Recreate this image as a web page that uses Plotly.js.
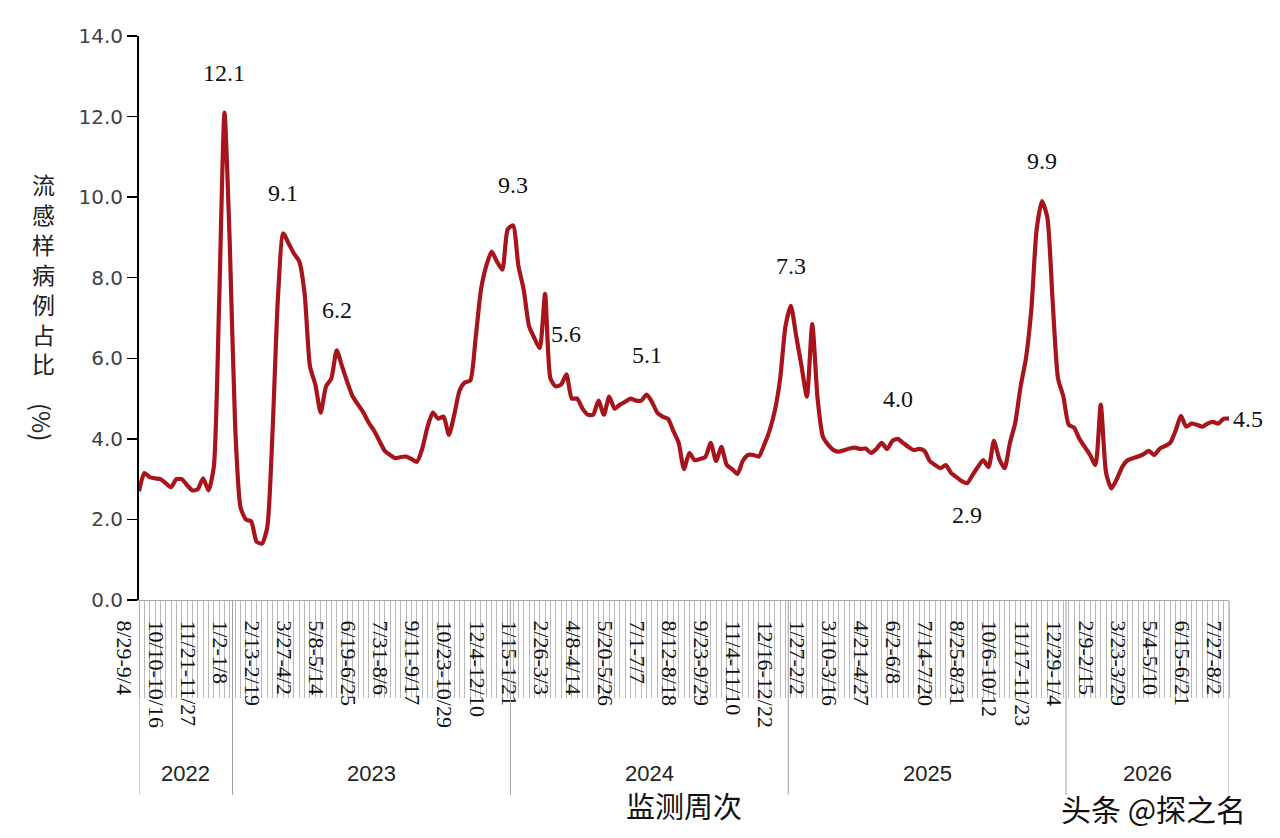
<!DOCTYPE html>
<html>
<head>
<meta charset="utf-8">
<script src="https://cdn.plot.ly/plotly-3.0.1.min.js"></script>
<style>
  html, body { margin: 0; padding: 0; background: #fff; }
  #chart { width: 1280px; height: 838px; }
</style>
</head>
<body>
<div id="chart"></div>
<script>
// Weekly influenza-like-illness share (%), week 8/29-9/4 (2022) to 7/27-8/2 (2026)
const iliShare = [
  2.7, 3.15, 3.05, 3.02, 3.0, 2.9, 2.8, 3.0, 3.0, 2.85,
  2.72, 2.75, 3.02, 2.72, 3.3, 7.4, 12.1, 8.8, 4.3, 2.3,
  2.0, 1.95, 1.45, 1.4, 1.8, 4.2, 7.5, 9.1, 8.85, 8.6,
  8.4, 7.6, 5.8, 5.35, 4.65, 5.3, 5.5, 6.2, 5.8, 5.4,
  5.05, 4.85, 4.65, 4.4, 4.2, 3.95, 3.7, 3.6, 3.52, 3.55,
  3.56, 3.5, 3.43, 3.75, 4.3, 4.65, 4.5, 4.55, 4.1, 4.6,
  5.2, 5.4, 5.45, 6.5, 7.7, 8.3, 8.65, 8.4, 8.2, 9.2,
  9.3, 8.3, 7.7, 6.8, 6.5, 6.25, 7.6, 5.5, 5.3, 5.35,
  5.6, 5.0, 5.0, 4.75, 4.6, 4.6, 4.95, 4.6, 5.05, 4.75,
  4.85, 4.92, 5.0, 4.95, 4.95, 5.1, 4.92, 4.65, 4.55, 4.5,
  4.2, 3.9, 3.25, 3.65, 3.47, 3.5, 3.55, 3.9, 3.45, 3.8,
  3.35, 3.25, 3.13, 3.45, 3.6, 3.6, 3.56, 3.85, 4.2, 4.7,
  5.5, 6.8, 7.3, 6.55, 5.8, 5.05, 6.85, 5.0, 4.05, 3.85,
  3.72, 3.68, 3.72, 3.76, 3.78, 3.75, 3.76, 3.65, 3.75, 3.9,
  3.75, 3.95, 4.0, 3.9, 3.8, 3.72, 3.75, 3.7, 3.45, 3.35,
  3.27, 3.35, 3.15, 3.05, 2.95, 2.9, 3.1, 3.3, 3.47, 3.3,
  3.95, 3.5, 3.27, 3.9, 4.4, 5.3, 6.0, 7.2, 9.2, 9.9,
  9.5, 7.4, 5.5, 5.05, 4.35, 4.28, 4.0, 3.8, 3.6, 3.35,
  4.85, 3.15, 2.77, 3.0, 3.3, 3.47, 3.52, 3.56, 3.62, 3.7,
  3.6, 3.75, 3.82, 3.9, 4.2, 4.57, 4.3, 4.38, 4.35, 4.3,
  4.38, 4.42, 4.38, 4.5, 4.5
];

// Tick labels, one every 6 weeks
const tickLabels = [
  "8/29-9/4", "10/10-10/16", "11/21-11/27", "1/2-1/8", "2/13-2/19", "3/27-4/2",
  "5/8-5/14", "6/19-6/25", "7/31-8/6", "9/11-9/17", "10/23-10/29", "12/4-12/10",
  "1/15-1/21", "2/26-3/3", "4/8-4/14", "5/20-5/26", "7/1-7/7", "8/12-8/18",
  "9/23-9/29", "11/4-11/10", "12/16-12/22", "1/27-2/2", "3/10-3/16", "4/21-4/27",
  "6/2-6/8", "7/14-7/20", "8/25-8/31", "10/6-10/12", "11/17-11/23", "12/29-1/4",
  "2/9-2/15", "3/23-3/29", "5/4-5/10", "6/15-6/21", "7/27-8/2"
];
const tickEvery = 6;

// Year groups: label and index of first week in each year
const years = ["2022", "2023", "2024", "2025", "2026"];
const yearStartWeek = [0, 18, 70, 122, 174];

// Labelled points (week index) and where the label sits
const labelWeeks = [16, 27, 37, 70, 80, 95, 122, 142, 155, 169, 204];
const labelPlace = ["up", "up", "up", "up", "up", "up", "up", "up", "down", "up", "right"];

const yTitleMain = "流感样病例占比";
const yTitleUnit = "(%)";
const xTitle = "监测周次";
const watermark = "头条 @探之名";

// ---- build ----
const weekIdx = iliShare.map((_, i) => i);
const lastIdx = iliShare.length - 1;
const tickvals = tickLabels.map((_, i) => i * tickEvery);

const plotTop = 36, plotBottom = 600, plotH = plotBottom - plotTop;
const pyToPaper = py => (plotBottom - py) / plotH;

const trace = {
  x: weekIdx,
  y: iliShare,
  type: "scatter",
  mode: "lines",
  line: { color: "#a8141c", width: 4.2, shape: "spline", smoothing: 0.6 },
  hoverinfo: "x+y"
};

const annotations = [];
labelWeeks.forEach((w, k) => {
  const p = labelPlace[k];
  annotations.push({
    x: w, y: iliShare[w], xref: "x", yref: "y",
    text: iliShare[w].toFixed(1),
    showarrow: false,
    font: { family: "Liberation Serif, Times New Roman, serif", size: 24, color: "#111" },
    xanchor: p === "right" ? "left" : "center",
    yanchor: "middle",
    xshift: p === "right" ? 2 : 0,
    yshift: p === "up" ? 40 : (p === "down" ? -32 : 0)
  });
});

// Year labels and separators
const shapes = [];
const yearBounds = yearStartWeek.map((s, i) => (i === 0 ? 0 : s - 0.5));
yearBounds.push(lastIdx);
yearBounds.forEach(b => {
  shapes.push({
    type: "line", xref: "x", yref: "paper",
    x0: b, x1: b, y0: 0, y1: pyToPaper(795),
    line: { color: "#a0a0a0", width: 1 }
  });
});
years.forEach((yr, i) => {
  annotations.push({
    x: (yearBounds[i] + yearBounds[i + 1]) / 2, xref: "x",
    y: pyToPaper(773), yref: "paper",
    text: yr, showarrow: false, borderpad: 0,
    font: { family: "Liberation Sans, Arial, sans-serif", size: 22, color: "#222" },
    xanchor: "center", yanchor: "middle"
  });
});

// Y title, stacked upright characters in one block
const yTitleX = (43 - 139) / 1090;
annotations.push({
  x: yTitleX, xref: "paper",
  y: pyToPaper(166), yref: "paper",
  text: Array.from(yTitleMain).join("<br>"),
  showarrow: false, borderpad: 0,
  font: { family: "Noto Sans CJK SC, sans-serif", size: 23, color: "#222" },
  xanchor: "center", yanchor: "top", align: "center"
});
annotations.push({
  x: yTitleX, xref: "paper", y: pyToPaper(422), yref: "paper",
  text: yTitleUnit, showarrow: false, textangle: 90, borderpad: 0,
  font: { family: "Noto Sans CJK SC, sans-serif", size: 24, color: "#222" },
  xanchor: "center", yanchor: "middle"
});

// X title
annotations.push({
  x: 0.5, xref: "paper", y: pyToPaper(805), yref: "paper",
  text: xTitle, showarrow: false,
  font: { family: "Noto Sans CJK SC, sans-serif", size: 29, color: "#111" },
  xanchor: "center", yanchor: "middle"
});

// Watermark
annotations.push({
  x: (1153 - 139) / 1090, xref: "paper", y: pyToPaper(808), yref: "paper",
  text: watermark, showarrow: false, borderpad: 0,
  font: { family: "Noto Sans CJK SC, sans-serif", size: 30, color: "#111" },
  xanchor: "center", yanchor: "middle"
});

const layout = {
  width: 1280, height: 838,
  margin: { l: 139, r: 51, t: 36, b: 238 },
  paper_bgcolor: "#fff", plot_bgcolor: "#fff",
  showlegend: false,
  xaxis: {
    type: "linear",
    range: [0, lastIdx],
    tickmode: "array",
    tickvals: tickvals,
    ticktext: tickLabels,
    tickangle: 90,
    ticks: "outside", ticklen: 97, tickcolor: "#b8b8b8", tickwidth: 1,
    ticklabelstandoff: -82,
    ticklabelshift: -15,
    tickfont: { family: "Liberation Serif, Times New Roman, serif", size: 22, color: "#111" },
    minor: { tickmode: "linear", tick0: 0, dtick: 1, ticks: "outside", ticklen: 97, tickcolor: "#b8b8b8", tickwidth: 1 },
    showline: true, linecolor: "#a8a8a8", linewidth: 1,
    showgrid: false, zeroline: false, fixedrange: true
  },
  yaxis: {
    range: [0, 14],
    tickmode: "array",
    tickvals: [0, 2, 4, 6, 8, 10, 12, 14],
    tickformat: ".1f",
    ticks: "outside", ticklen: 10, tickcolor: "#000", tickwidth: 1.5,
    showline: true, linecolor: "#000", linewidth: 2,
    tickfont: { family: "DejaVu Sans, sans-serif", size: 20, color: "#404048" },
    showgrid: false, zeroline: false, fixedrange: true
  },
  annotations: annotations,
  shapes: shapes
};

Plotly.newPlot("chart", [trace], layout, { displayModeBar: false, staticPlot: true });
</script>
</body>
</html>
